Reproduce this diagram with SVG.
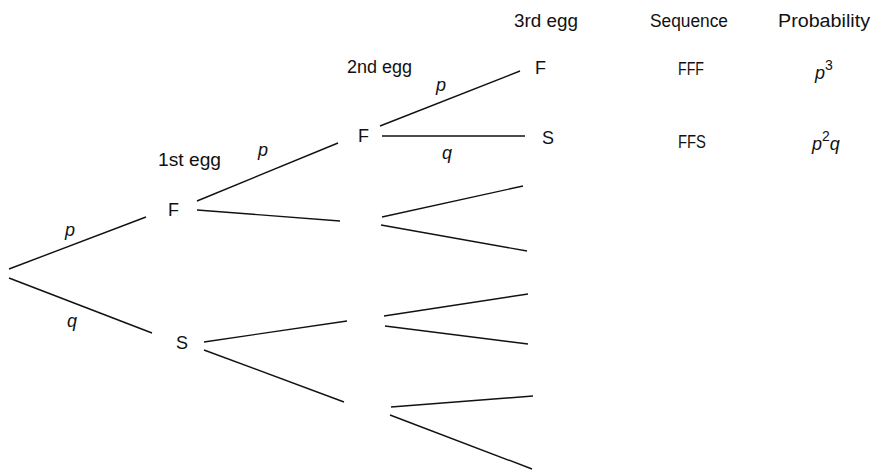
<svg xmlns="http://www.w3.org/2000/svg" width="875" height="472" viewBox="0 0 875 472">
<style>
  text { font-family: "Liberation Sans", Arial, sans-serif; font-size: 18px; fill: #111; }
  .it { font-style: italic; }
  .sup { font-size: 14px; }
  .edge { stroke: #111; stroke-width: 1.4; fill: none; stroke-linecap: butt; }
</style>
<rect width="875" height="472" fill="#fff"/>
<g id="headers">
  <text x="514" y="27" textLength="64" lengthAdjust="spacingAndGlyphs">3rd egg</text>
  <text x="650" y="27" textLength="78" lengthAdjust="spacingAndGlyphs">Sequence</text>
  <text x="778" y="27" textLength="92" lengthAdjust="spacingAndGlyphs">Probability</text>
  <text x="347" y="73" textLength="65" lengthAdjust="spacingAndGlyphs">2nd egg</text>
  <text x="158" y="166" textLength="63" lengthAdjust="spacingAndGlyphs">1st egg</text>
</g>
<g id="connectors">
  <line class="edge" x1="9" y1="269" x2="146" y2="217"/>
  <line class="edge" x1="9" y1="278" x2="152" y2="333"/>
  <line class="edge" x1="197" y1="201" x2="338" y2="143"/>
  <line class="edge" x1="197" y1="210" x2="340" y2="221"/>
  <line class="edge" x1="204" y1="342" x2="347" y2="321"/>
  <line class="edge" x1="204" y1="350" x2="344" y2="402"/>
  <line class="edge" x1="380" y1="126" x2="520" y2="71"/>
  <line class="edge" x1="382" y1="136" x2="525" y2="136"/>
  <line class="edge" x1="382" y1="217" x2="523" y2="186"/>
  <line class="edge" x1="381" y1="225" x2="527" y2="251"/>
  <line class="edge" x1="384" y1="316" x2="528" y2="294"/>
  <line class="edge" x1="385" y1="326" x2="528" y2="344"/>
  <line class="edge" x1="391" y1="407" x2="533" y2="396"/>
  <line class="edge" x1="390" y1="415" x2="532" y2="469"/>
</g>
<g id="edge-labels">
  <text class="it" x="65" y="236">p</text>
  <text class="it" x="67" y="327">q</text>
  <text class="it" x="258" y="156">p</text>
  <text class="it" x="436" y="91">p</text>
  <text class="it" x="442" y="159">q</text>
</g>
<g id="node-F1"><text x="168" y="216">F</text></g>
<g id="node-S1"><text x="176" y="349">S</text></g>
<g id="node-FF"><text x="358" y="142">F</text></g>
<g id="node-FFF"><text x="535" y="74">F</text></g>
<g id="node-FFS"><text x="542" y="144">S</text></g>
<g id="row-FFF">
  <text x="678" y="75" textLength="26" lengthAdjust="spacingAndGlyphs">FFF</text>
  <text x="815" y="79"><tspan class="it">p</tspan><tspan class="sup" dy="-9">3</tspan></text>
</g>
<g id="row-FFS">
  <text x="678" y="148" textLength="28" lengthAdjust="spacingAndGlyphs">FFS</text>
  <text x="812" y="150"><tspan class="it">p</tspan><tspan class="sup" dy="-9">2</tspan><tspan class="it" dy="9">q</tspan></text>
</g>
</svg>
